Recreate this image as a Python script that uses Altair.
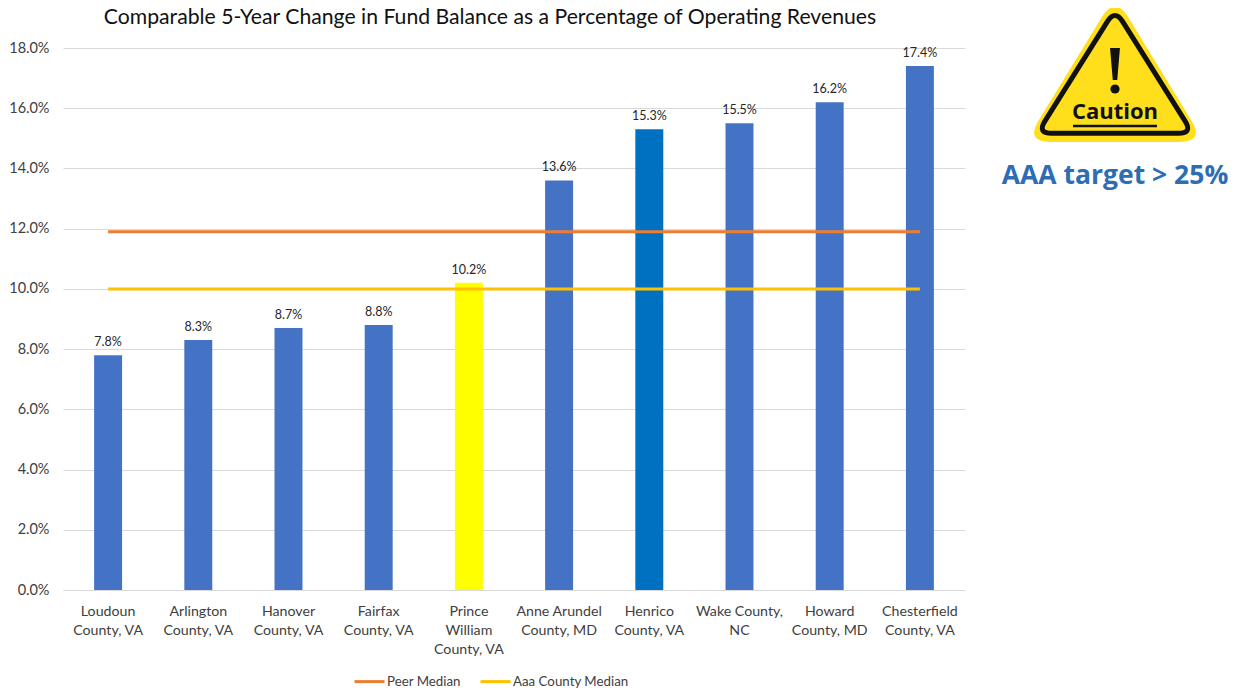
import altair as alt
import pandas as pd
import math

counties = ["Loudoun|County, VA", "Arlington|County, VA", "Hanover|County, VA", "Fairfax|County, VA",
            "Prince|William|County, VA", "Anne Arundel|County, MD", "Henrico|County, VA", "Wake County,|NC",
            "Howard|County, MD", "Chesterfield|County, VA"]
values = [0.078, 0.083, 0.087, 0.088, 0.102, 0.136, 0.153, 0.155, 0.162, 0.174]
bar_colors = ["#4472C4", "#4472C4", "#4472C4", "#4472C4", "#FFFF00", "#4472C4", "#0070C0", "#4472C4", "#4472C4", "#4472C4"]
peer_median = [0.119] * 10
aaa_median = [0.100] * 10
series_names = ["Peer Median", "Aaa County Median"]
series_colors = ["#ED7D31", "#FFC000"]
y_ticks = [0, 0.02, 0.04, 0.06, 0.08, 0.10, 0.12, 0.14, 0.16, 0.18]

FONT = "Lato"
PX0, PY0 = 63, 48   # plot origin on the page, for the annotation graphic

bars_df = pd.DataFrame({"county": counties, "value": values, "color": bar_colors})
lines_df = pd.DataFrame({
    "county": counties * 2,
    "value": peer_median + aaa_median,
    "series": [series_names[0]] * 10 + [series_names[1]] * 10,
})

x = alt.X("county:N", sort=counties, title=None,
          scale=alt.Scale(paddingInner=0.69, paddingOuter=0.345),
          axis=alt.Axis(labelExpr="split(datum.label, '|')", labelAngle=0, labelFont=FONT, labelFontSize=14.2,
                        labelColor="#404040", labelLineHeight=19, labelPadding=14, ticks=False, domainColor="#D9D9D9",
                        grid=False, labelLimit=200))
y = alt.Y("value:Q", title=None, scale=alt.Scale(domain=[0, 0.18], nice=False),
          axis=alt.Axis(format=".1%", values=y_ticks, labelFont=FONT, labelFontSize=14.5, labelColor="#404040",
                        ticks=False, domain=False, gridColor="#D9D9D9", labelPadding=14))

bars = alt.Chart(bars_df).mark_bar().encode(x=x, y=y, color=alt.Color("color:N", scale=None, legend=None))
labels = alt.Chart(bars_df).mark_text(baseline="bottom", dy=-6, font=FONT, fontSize=12.5, color="#262626").encode(
    x=alt.X("county:N", sort=counties), y="value:Q", text=alt.Text("value:Q", format=".1%"))
lines = alt.Chart(lines_df).mark_line(strokeWidth=3).encode(
    x=alt.X("county:N", sort=counties), y="value:Q",
    color=alt.Color("series:N", sort=series_names,
                    scale=alt.Scale(domain=series_names, range=series_colors),
                    legend=alt.Legend(title=None, orient="none", legendX=290, legendY=617, direction="horizontal",
                                      columns=2, symbolType="stroke", symbolSize=900, symbolStrokeWidth=3,
                                      labelFont=FONT, labelFontSize=13.3, labelColor="#404040", labelOffset=1,
                                      columnPadding=13)))

one = pd.DataFrame({"a": [0]})


def rtri(ay, hw, h, r):
    """Rounded triangle path in unit coordinates (apex on top, centred on x=0)."""
    L = math.hypot(hw, h)
    ux, uy = hw / L, h / L
    return (f"M{-ux*r:.4f} {ay+uy*r:.4f}Q0 {ay:.4f} {ux*r:.4f} {ay+uy*r:.4f}"
            f"L{hw-ux*r:.4f} {ay+h-uy*r:.4f}Q{hw:.4f} {ay+h:.4f} {hw-r:.4f} {ay+h:.4f}"
            f"L{-hw+r:.4f} {ay+h:.4f}Q{-hw:.4f} {ay+h:.4f} {-hw+ux*r:.4f} {ay+h-uy*r:.4f}Z")


def sym(path, px, py, size, **kw):
    return alt.Chart(one).mark_point(shape=path, size=size, filled=kw.pop("filled", True), opacity=1, **kw).encode(
        x=alt.value(px - PX0), y=alt.value(py - PY0))


outer = sym(rtri(-1.13, 1.12, 1.83, 0.32), 1115, 86, 160 * 160, color="#FFDF1C", strokeWidth=0)
inner = sym(rtri(-0.98, 1.08, 1.72, 0.2), 1115, 80, 144 * 144, filled=False, stroke="#111111", strokeWidth=5, fill="#FFDF1C")
bang = sym("M-0.31 -1L0.31 -1L0.14 1L-0.14 1Z", 1115, 64, 32 * 32, color="#111111", strokeWidth=0)
dot = alt.Chart(one).mark_circle(size=85, color="#111111", opacity=1).encode(x=alt.value(1115 - PX0), y=alt.value(89 - PY0))
caution = alt.Chart(one).mark_text(text="Caution", font="Open Sans", fontWeight="bold", fontSize=22, color="#111111",
                                   align="center", baseline="middle").encode(x=alt.value(1115 - PX0), y=alt.value(112 - PY0))
underline = alt.Chart(one).mark_rule(color="#111111", strokeWidth=2.5).encode(
    x=alt.value(1073 - PX0), x2=alt.value(1157 - PX0), y=alt.value(126 - PY0))
target = alt.Chart(one).mark_text(text="AAA target > 25%", font="Open Sans", fontWeight="bold", fontSize=26.5, color="#2E6DB4",
                                  align="center", baseline="middle").encode(x=alt.value(1115 - PX0), y=alt.value(176 - PY0))

chart = alt.layer(bars, lines, labels, outer, inner, bang, dot, caution, underline, target).resolve_scale(
    color="independent"
).properties(
    width=902, height=542,
    title=alt.TitleParams("Comparable 5-Year Change in Fund Balance as a Percentage of Operating Revenues",
                          font=FONT, fontSize=21.2, fontWeight="normal", color="#111111", anchor="middle",
                          dx=-24, offset=-23),
    padding={"left": 55, "top": 40, "right": 268, "bottom": 98},
    autosize=alt.AutoSizeParams(type="none"),
).configure_view(stroke=None)

chart.save("out.html", embed_options={"renderer": "svg", "actions": False})
